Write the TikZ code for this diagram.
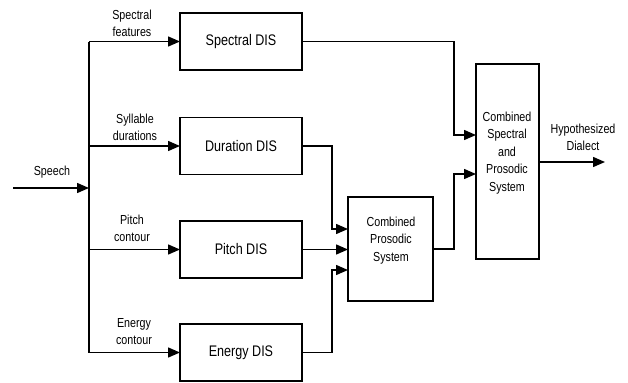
\documentclass[tikz,border=0pt]{standalone}
\usepackage{fontspec}
\setmainfont{Liberation Sans}[FakeStretch=0.82]
\usetikzlibrary{arrows.meta}

\begin{document}
\begin{tikzpicture}[
  x=0.75pt, y=-0.75pt,
  disbox/.style={rectangle, draw=black, line width=1.1pt, inner sep=0pt, outer sep=0pt,
                 minimum width=91.5pt, minimum height=42.75pt,
                 font=\fontsize{11.5pt}{14pt}\selectfont},
  combox/.style={rectangle, draw=black, line width=1.1pt, inner sep=0pt, outer sep=0pt},
  boxtext/.style={align=center, font=\fontsize{9.8pt}{13.1pt}\selectfont},
  sigtext/.style={align=center, font=\fontsize{9.8pt}{12.8pt}\selectfont},
  line/.style={draw=black, line width=1.1pt},
  arrow/.style={line, -{Triangle[length=9pt,width=7.5pt]}},
]
\useasboundingbox (0,0) rectangle (628,382);

% ── Left: feature boxes ────────────────────────────────────────────────
\node[disbox] (spec)   at (241, 41.5)  {Spectral DIS};
\node[disbox] (dur)    at (241, 146)   {Duration DIS};
\node[disbox] (pitch)  at (241, 249.5) {Pitch DIS};
\node[disbox] (energy) at (241, 352.5) {Energy DIS};

% ── Input bus ──────────────────────────────────────────────────────────
\coordinate (speechin) at (13, 188);
\coordinate (bus)      at (89, 188);
\node[sigtext] (speech) at (52, 172) {Speech};

\draw[arrow] (speechin) -- (bus);
\draw[line] (spec.west -| bus) -- (energy.west -| bus);

\draw[arrow] (spec.west -| bus)   -- (spec.west);
\draw[arrow] (dur.west -| bus)    -- (dur.west);
\draw[arrow] (pitch.west -| bus)  -- (pitch.west);
\draw[arrow] (energy.west -| bus) -- (energy.west);

\node[sigtext] (specfeat)  at (132, 23.5)  {Spectral\\features};
\node[sigtext] (syldur)    at (135, 127.5) {Syllable\\durations};
\node[sigtext] (pitchcont) at (132, 228.5) {Pitch\\contour};
\node[sigtext] (encont)    at (134, 332)   {Energy\\contour};

% ── Middle: combined prosodic system ───────────────────────────────────
\node[combox, minimum width=63.75pt, minimum height=78pt] (prosodic) at (390.5, 249) {};
\node[boxtext] (prosodictxt) at (391, 240.5) {Combined\\Prosodic\\System};

\coordinate (split)    at (332, 0);
\coordinate (prosin1)  at (348, 229);
\coordinate (prosin3)  at (348, 270);

\draw[arrow] (dur.east) -| (split |- prosin1) -- (prosin1);
\draw[arrow] (pitch.east) -- (prosodic.west |- pitch.east);
\draw[arrow] (energy.east) -| (split |- prosin3) -- (prosin3);

% ── Right: combined spectral and prosodic system ───────────────────────
\node[combox, minimum width=47.25pt, minimum height=146.25pt] (big) at (507.5, 161.5) {};
\node[boxtext] (bigtxt) at (507, 153) {Combined\\Spectral\\and\\Prosodic\\System};

\coordinate (spine)  at (454, 0);
\coordinate (bigin1) at (476, 135);
\coordinate (bigin2) at (476, 174);

\draw[arrow] (spec.east) -| (spine |- bigin1) -- (bigin1);
\draw[arrow] (prosodic.east) -| (spine |- bigin2) -- (bigin2);

% ── Output ─────────────────────────────────────────────────────────────
\coordinate (dialectout) at (605, 162);
\draw[arrow] (big.east |- dialectout) -- (dialectout);
\node[sigtext] (dialect) at (583, 137.5) {Hypothesized\\Dialect};

\end{tikzpicture}
\end{document}
